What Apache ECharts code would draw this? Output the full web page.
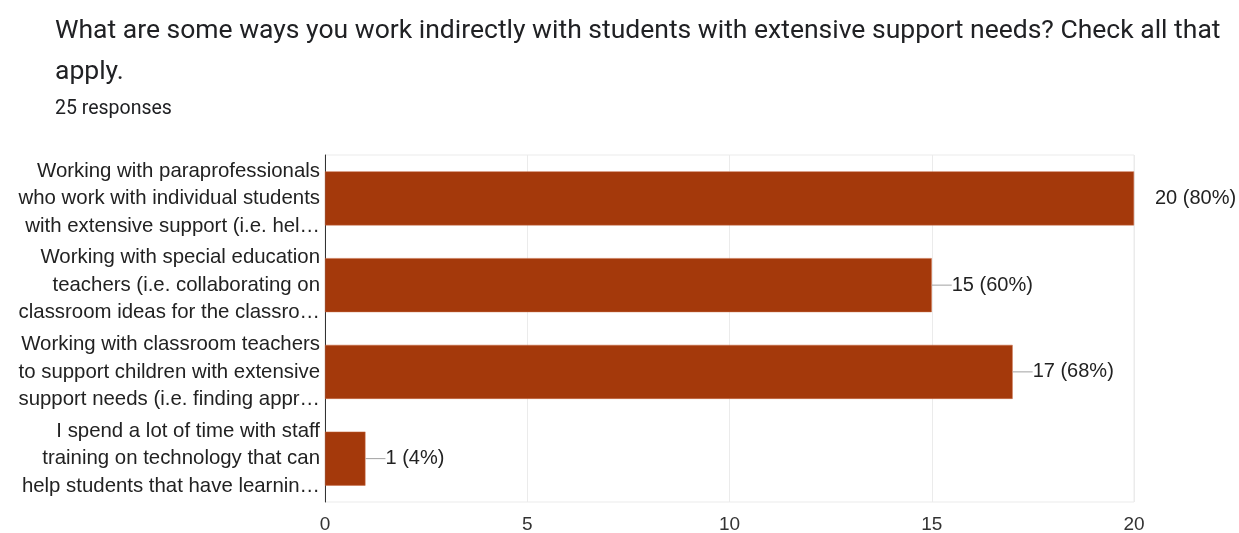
<!DOCTYPE html>
<html>
<head>
<meta charset="utf-8">
<script src="https://cdn.jsdelivr.net/npm/echarts@6/dist/echarts.min.js"></script>
<style>
  html, body { margin: 0; padding: 0; background: #fff; }
  #chart { width: 1239px; height: 533px; }
</style>
</head>
<body>
<div id="chart"></div>
<script>
const categories = [
  'Working with paraprofessionals\nwho work with individual students\nwith extensive support (i.e. hel…',
  'Working with special education\nteachers (i.e. collaborating on\nclassroom ideas for the classro…',
  'Working with classroom teachers\nto support children with extensive\nsupport needs (i.e. finding appr…',
  'I spend a lot of time with staff\ntraining on technology that can\nhelp students that have learnin…'
];
const counts = [20, 15, 17, 1];
const percents = [80, 60, 68, 4];
const totalResponses = 25;

const maxCount = Math.max(...counts);

const myChart = echarts.init(document.getElementById('chart'));
myChart.setOption({
  animation: false,
  title: [{
    text: 'What are some ways you work indirectly with students with extensive support needs? Check all that\napply.',
    left: 50,
    top: 6,
    textStyle: { fontFamily: 'Roboto', fontSize: 26.5, fontWeight: 'normal', color: '#202124', lineHeight: 41 }
  }, {
    text: totalResponses + ' responses',
    left: 50,
    top: 94,
    textStyle: { fontFamily: 'Roboto', fontSize: 19.5, fontWeight: 'normal', color: '#202124' }
  }],
  grid: {
    left: 325, right: 105, top: 155, bottom: 31,
    outerBoundsMode: 'none',
    show: true, borderColor: '#ebebeb', borderWidth: 1
  },
  xAxis: {
    type: 'value',
    min: 0,
    max: 20,
    interval: 5,
    axisLine: { show: false },
    axisTick: { show: false },
    splitLine: { show: true, lineStyle: { color: '#ebebeb' } },
    axisLabel: { fontFamily: 'Liberation Sans', fontSize: 19, color: '#333', margin: 13 }
  },
  yAxis: {
    type: 'category',
    inverse: true,
    data: categories,
    axisLine: { show: true, lineStyle: { color: '#333', width: 1 } },
    axisTick: { show: false },
    splitLine: { show: false },
    axisLabel: {
      fontFamily: 'Liberation Sans', fontSize: 20.4, color: '#222',
      lineHeight: 27.5, align: 'right', margin: 5
    }
  },
  series: [{
    type: 'bar',
    barWidth: 54,
    data: counts.map((v, i) => ({
      value: v,
      label: v === maxCount
        ? { distance: 21, formatter: v + ' (' + percents[i] + '%)' }
        : { distance: 0, formatter: '{l|}' + v + ' (' + percents[i] + '%)' }
    })),
    itemStyle: { color: '#a4390b', borderColor: '#c86a45', borderWidth: 0.5 },
    label: {
      show: true,
      position: 'right',
      fontFamily: 'Liberation Sans',
      fontSize: 20,
      color: '#222',
      rich: {
        l: { width: 20, height: 1, backgroundColor: '#a0a0a0' }
      }
    }
  }]
});
</script>
</body>
</html>
